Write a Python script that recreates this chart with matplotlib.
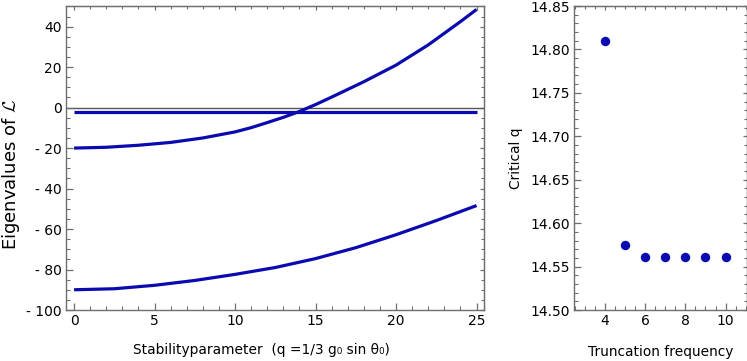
import matplotlib
matplotlib.use("Agg")
import matplotlib.pyplot as plt
from matplotlib.ticker import MultipleLocator, FuncFormatter

# ---- data ----
q_upper = [0, 2, 4, 6, 8, 10, 11, 12, 13, 14, 15, 16, 18, 20, 22, 24, 25]
ev_upper = [-20.0, -19.6, -18.6, -17.2, -15.0, -12.0, -9.9, -7.4, -4.8, -1.9, 1.5, 5.2, 12.8, 21.0, 31.0, 42.5, 48.5]

q_lower = [0, 2.5, 5, 7.5, 10, 12.5, 15, 17.5, 20, 22.5, 25]
ev_lower = [-90.0, -89.5, -87.8, -85.4, -82.4, -79.0, -74.6, -69.2, -62.8, -55.8, -48.4]

q_flat = [0, 25]
ev_flat = [-2.0, -2.0]

trunc_freq = [4, 5, 6, 7, 8, 9, 10]
critical_q = [14.810, 14.575, 14.561, 14.561, 14.561, 14.561, 14.561]

BLUE = "#0a0ab0"
FRAME = "#6e6e6e"
TICK_FS = 10
LABEL_FS = 9.9

plt.rcParams['font.family'] = ['DejaVu Sans']
plt.rcParams['mathtext.fontset'] = 'cm'

fig = plt.figure(figsize=(7.47, 3.61), dpi=100)
W, H = 747.0, 361.0
ax1 = fig.add_axes([65.7 / W, 51 / H, (484 - 65.7) / W, 304 / H])
ax2 = fig.add_axes([574 / W, 51 / H, (746.5 - 574) / W, 304 / H])


def neg_fmt(v, pos):
    if abs(v) < 1e-9:
        return "0"
    if v < 0:
        return "- %g" % (-v)
    return "%g" % v


def style(ax, xmaj, xmin, ymaj, ymin):
    for s in ax.spines.values():
        s.set_color(FRAME)
        s.set_linewidth(1.0)
    ax.xaxis.set_major_locator(MultipleLocator(xmaj))
    ax.xaxis.set_minor_locator(MultipleLocator(xmin))
    ax.yaxis.set_major_locator(MultipleLocator(ymaj))
    ax.yaxis.set_minor_locator(MultipleLocator(ymin))
    ax.tick_params(which='both', direction='in', color=FRAME, labelsize=TICK_FS,
                   labelcolor='black', top=False, right=False)
    ax.tick_params(which='major', length=5, width=0.9, pad=3)
    ax.tick_params(which='minor', length=3, width=0.8)
    tx = ax.secondary_xaxis('top')
    tx.xaxis.set_major_locator(MultipleLocator(xmaj))
    tx.xaxis.set_minor_locator(MultipleLocator(xmin))
    tx.tick_params(which='both', direction='in', color=FRAME, labeltop=False)
    tx.tick_params(which='major', length=3, width=0.9)
    tx.tick_params(which='minor', length=2, width=0.8)
    tx.spines['top'].set_color(FRAME)
    ty = ax.secondary_yaxis('right')
    ty.yaxis.set_major_locator(MultipleLocator(ymaj))
    ty.yaxis.set_minor_locator(MultipleLocator(ymin))
    ty.tick_params(which='both', direction='in', color=FRAME, labelright=False)
    ty.tick_params(which='major', length=3, width=0.9)
    ty.tick_params(which='minor', length=2, width=0.8)
    ty.spines['right'].set_color(FRAME)


# ---- left panel ----
ax1.axhline(0, color='#555555', lw=1.0, zorder=1)
ax1.plot(q_upper, ev_upper, color=BLUE, lw=2.3, solid_capstyle='butt', zorder=2)
ax1.plot(q_flat, ev_flat, color=BLUE, lw=2.3, solid_capstyle='butt', zorder=2)
ax1.plot(q_lower, ev_lower, color=BLUE, lw=2.3, solid_capstyle='butt', zorder=2)
ax1.set_xlim(-0.52, 25.46)
ax1.set_ylim(-100, 50.2)
style(ax1, 5, 1, 20, 5)
ax1.yaxis.set_major_formatter(FuncFormatter(neg_fmt))
ax1.xaxis.set_major_formatter(FuncFormatter(neg_fmt))
ax1.set_xlabel("Stabilityparameter  (q =1/3 g\u2080 sin \u03b8\u2080)", fontsize=LABEL_FS)
ax1.xaxis.set_label_coords(0.468, -0.11)
ax1.set_ylabel(r"Eigenvalues of $\mathcal{L}$", fontsize=13, va='center')
ax1.yaxis.set_label_coords(-0.131, 0.445)

# ---- right panel ----
ax2.plot(trunc_freq, critical_q, 'o', color=BLUE, markersize=6.8, markeredgewidth=0, zorder=3)
ax2.set_xlim(2.46, 11.04)
ax2.set_ylim(14.50, 14.85)
style(ax2, 2, 0.5, 0.05, 0.01)
ax2.yaxis.set_major_formatter(FuncFormatter(lambda v, p: "%.2f" % v))
ax2.set_xlabel("Truncation frequency", fontsize=LABEL_FS, labelpad=12)
ax2.set_ylabel("Critical q", fontsize=LABEL_FS, labelpad=5)

fig.savefig("out.png", dpi=100)
